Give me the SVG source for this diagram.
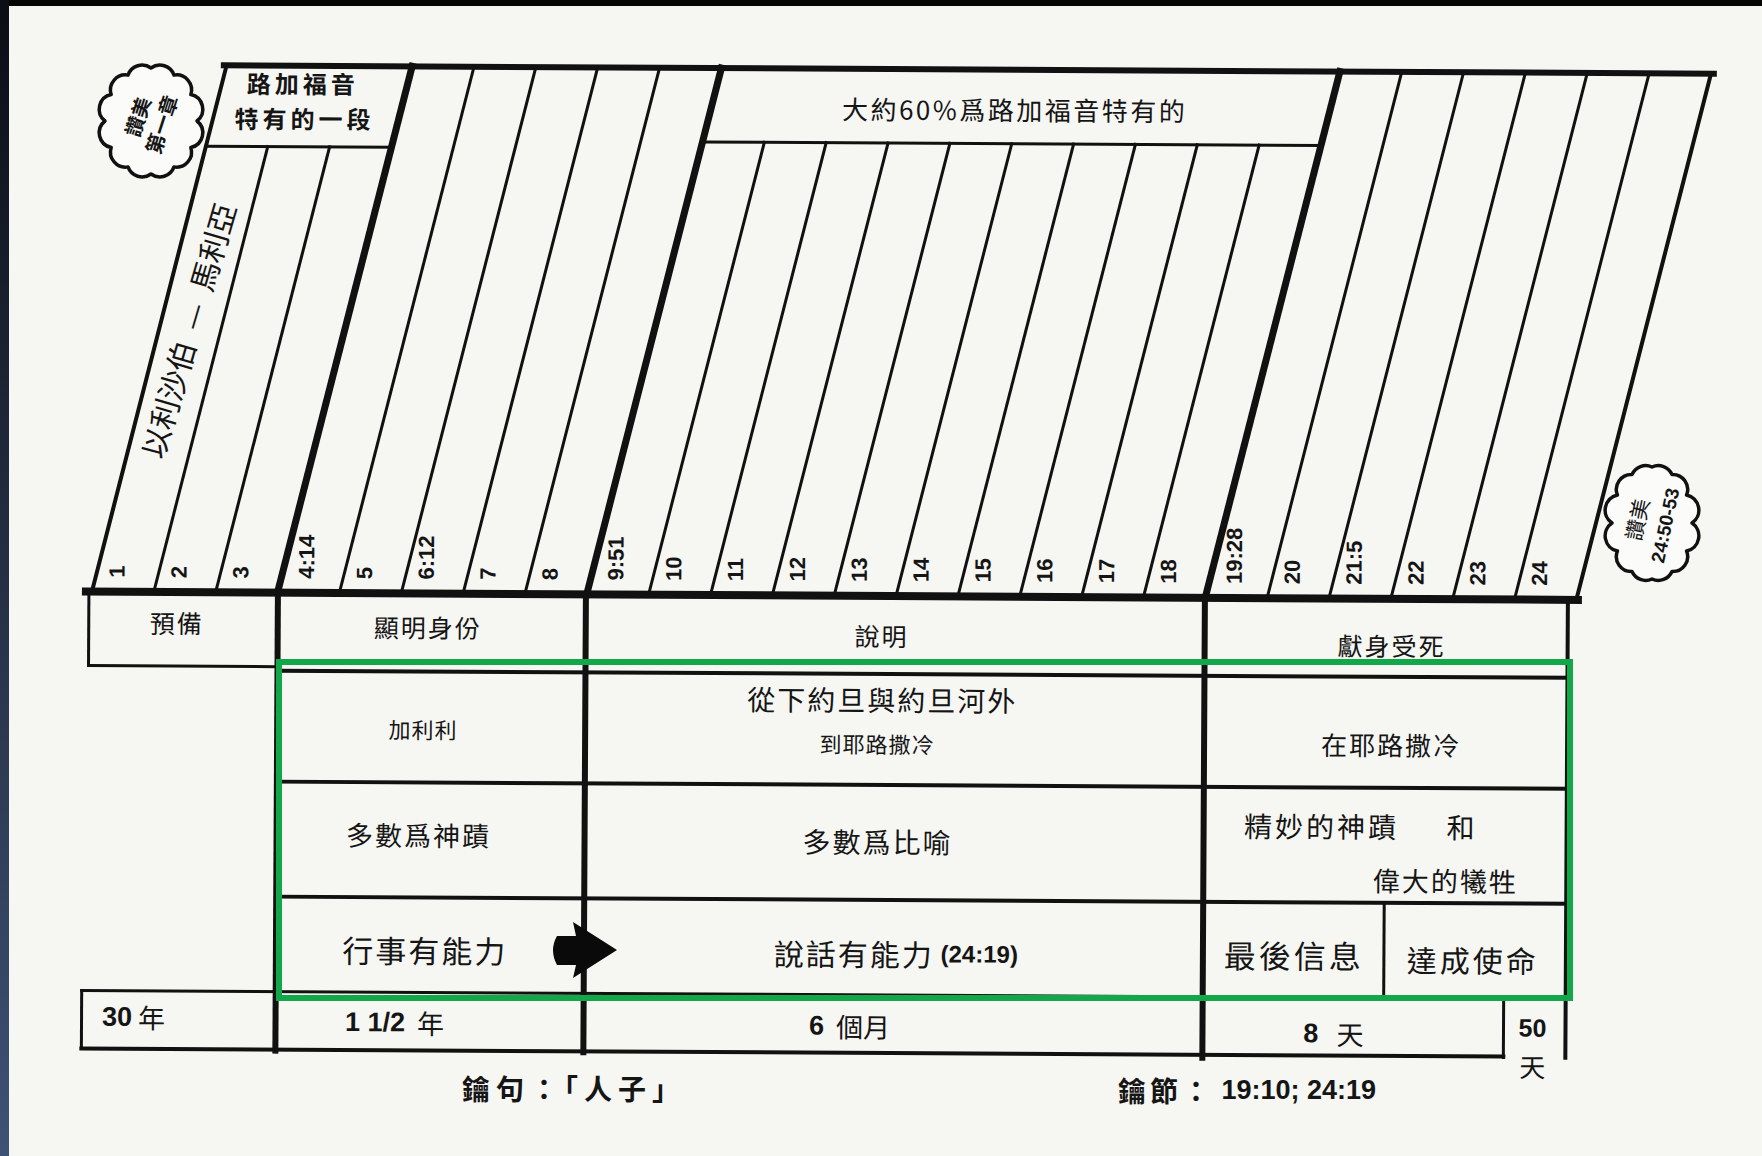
<svg xmlns="http://www.w3.org/2000/svg" width="1762" height="1156" viewBox="0 0 1762 1156">
<defs>
<linearGradient id="edge" x1="0" y1="0" x2="0" y2="1"><stop offset="0" stop-color="#0b0d14"/><stop offset="1" stop-color="#3e5275"/></linearGradient>
<style>
.ln{stroke:#111;fill:none;stroke-linecap:square}
.t3{stroke-width:3}
.t4{stroke-width:4}
.t6{stroke-width:6}
.t7{stroke-width:7}
.cjk{font-family:'Noto Sans CJK TC','Noto Sans CJK SC',sans-serif;fill:#151515}
.num{font-family:'Liberation Sans',Arial,sans-serif;font-weight:bold;fill:#151515}
.c{text-anchor:middle;dominant-baseline:central}
.v{dominant-baseline:central}
.cloud{fill:#fbfbfa;stroke:#111;stroke-width:3.5;stroke-linejoin:round}
</style>
</defs>
<rect width="1762" height="1156" fill="#f6f6f3"/>
<rect x="0" y="0" width="1762" height="6" fill="#050505"/>
<rect x="0" y="0" width="9" height="1156" fill="url(#edge)"/>

<g transform="rotate(0.32 880 580)">
<g id="slanted-columns">
<line class="ln t6" x1="221" y1="69" x2="1711" y2="69"/>
<line class="ln t4" x1="223.75" y1="69" x2="92" y2="596"/>
<line class="ln t3" x1="265.35" y1="150" x2="153.85" y2="596"/>
<line class="ln t3" x1="327.2" y1="150" x2="215.7" y2="596"/>
<line class="ln t7" x1="409.3" y1="69" x2="277.55" y2="596"/>
<line class="ln t3" x1="471.15" y1="69" x2="339.4" y2="596"/>
<line class="ln t3" x1="533" y1="69" x2="401.25" y2="596"/>
<line class="ln t3" x1="594.85" y1="69" x2="463.1" y2="596"/>
<line class="ln t3" x1="656.7" y1="69" x2="524.95" y2="596"/>
<line class="ln t7" x1="718.55" y1="69" x2="586.8" y2="596"/>
<line class="ln t3" x1="761.9" y1="143" x2="648.65" y2="596"/>
<line class="ln t3" x1="823.75" y1="143" x2="710.5" y2="596"/>
<line class="ln t3" x1="885.6" y1="143" x2="772.35" y2="596"/>
<line class="ln t3" x1="947.45" y1="143" x2="834.2" y2="596"/>
<line class="ln t3" x1="1009.3" y1="143" x2="896.05" y2="596"/>
<line class="ln t3" x1="1071.15" y1="143" x2="957.9" y2="596"/>
<line class="ln t3" x1="1133" y1="143" x2="1019.75" y2="596"/>
<line class="ln t3" x1="1194.85" y1="143" x2="1081.6" y2="596"/>
<line class="ln t3" x1="1256.7" y1="143" x2="1143.45" y2="596"/>
<line class="ln t7" x1="1337.05" y1="69" x2="1205.3" y2="596"/>
<line class="ln t3" x1="1398.9" y1="69" x2="1267.15" y2="596"/>
<line class="ln t3" x1="1460.75" y1="69" x2="1329" y2="596"/>
<line class="ln t3" x1="1522.6" y1="69" x2="1390.85" y2="596"/>
<line class="ln t3" x1="1584.45" y1="69" x2="1452.7" y2="596"/>
<line class="ln t3" x1="1646.3" y1="69" x2="1514.55" y2="596"/>
<line class="ln t4" x1="1708.15" y1="69" x2="1576.4" y2="596"/>
<text class="cjk c" font-size="30" xml:space="preserve" transform="translate(186 334) rotate(-74)">以利沙伯  —  馬利亞</text>
<g class="num" font-size="22">
<text class="v" transform="translate(117 582) rotate(-90)">1</text>
<text class="v" transform="translate(178.9 582) rotate(-90)">2</text>
<text class="v" transform="translate(240.7 582) rotate(-90)">3</text>
<text class="v" transform="translate(306.6 582) rotate(-90)">4:14</text>
<text class="v" transform="translate(364.4 582) rotate(-90)">5</text>
<text class="v" transform="translate(426.3 582) rotate(-90)">6:12</text>
<text class="v" transform="translate(488.1 582) rotate(-90)">7</text>
<text class="v" transform="translate(550 582) rotate(-90)">8</text>
<text class="v" transform="translate(615.8 582) rotate(-90)">9:51</text>
<text class="v" transform="translate(673.7 582) rotate(-90)">10</text>
<text class="v" transform="translate(735.5 582) rotate(-90)">11</text>
<text class="v" transform="translate(797.4 582) rotate(-90)">12</text>
<text class="v" transform="translate(859.2 582) rotate(-90)">13</text>
<text class="v" transform="translate(921.1 582) rotate(-90)">14</text>
<text class="v" transform="translate(982.9 582) rotate(-90)">15</text>
<text class="v" transform="translate(1044.8 582) rotate(-90)">16</text>
<text class="v" transform="translate(1106.6 582) rotate(-90)">17</text>
<text class="v" transform="translate(1168.5 582) rotate(-90)">18</text>
<text class="v" transform="translate(1234.3 582) rotate(-90)">19:28</text>
<text class="v" transform="translate(1292.2 582) rotate(-90)">20</text>
<text class="v" transform="translate(1354 582) rotate(-90)">21:5</text>
<text class="v" transform="translate(1415.9 582) rotate(-90)">22</text>
<text class="v" transform="translate(1477.7 582) rotate(-90)">23</text>
<text class="v" transform="translate(1539.6 582) rotate(-90)">24</text>
</g>
</g>

<g id="box-luke-unique">
<line class="ln t3" x1="203.5" y1="150" x2="389" y2="150"/>
<text class="cjk c" font-size="24" font-weight="bold" letter-spacing="4" x="300" y="86">路加福音</text>
<text class="cjk c" font-size="24" font-weight="bold" letter-spacing="4" x="302" y="121">特有的一段</text>
</g>

<g id="box-sixty-percent">
<line class="ln t3" x1="700" y1="143" x2="1318.5" y2="143"/>
<text class="cjk c" font-size="26" letter-spacing="2.5" x="1012" y="108">大約60%爲路加福音特有的</text>
</g>

<g id="table-grid">
<line class="ln" stroke-width="8" x1="86" y1="596" x2="1578" y2="596"/>
<line class="ln t3" x1="89" y1="596" x2="89" y2="670"/>
<line class="ln t3" x1="89" y1="670" x2="278" y2="670"/>
<line class="ln t6" x1="278" y1="596" x2="278" y2="1054"/>
<line class="ln t6" x1="586" y1="596" x2="586" y2="1054"/>
<line class="ln t6" x1="1205" y1="596" x2="1205" y2="1056"/>
<line class="ln t4" x1="1568" y1="596" x2="1568" y2="1054"/>
<line class="ln t4" x1="278" y1="674" x2="1568" y2="674"/>
<line class="ln t4" x1="278" y1="785" x2="1568" y2="785"/>
<line class="ln t4" x1="278" y1="900" x2="1568" y2="900"/>
<line class="ln t3" x1="1386" y1="900" x2="1386" y2="995"/>
<line class="ln t3" x1="84" y1="995" x2="1568" y2="995"/>
<line class="ln t3" x1="84" y1="995" x2="84" y2="1053"/>
<line class="ln t4" x1="84" y1="1053" x2="1506" y2="1053"/>
<line class="ln t3" x1="1506" y1="995" x2="1506" y2="1054"/>
</g>

<g id="row-phase">
<text class="cjk c" font-size="25" letter-spacing="2" x="177" y="626">預備</text>
<text class="cjk c" font-size="25" letter-spacing="2" x="428" y="629">顯明身份</text>
<text class="cjk c" font-size="25" letter-spacing="2" x="882" y="635">說明</text>
<text class="cjk c" font-size="25" letter-spacing="2" x="1392" y="642">獻身受死</text>
</g>

<g id="row-place">
<text class="cjk c" font-size="22" letter-spacing="1" x="424" y="731">加利利</text>
<text class="cjk c" font-size="28" letter-spacing="2" x="883" y="699">從下約旦與約旦河外</text>
<text class="cjk c" font-size="22" letter-spacing="1" x="878" y="743">到耶路撒冷</text>
<text class="cjk c" font-size="26" letter-spacing="2" x="1392" y="741">在耶路撒冷</text>
</g>

<g id="row-content">
<text class="cjk c" font-size="27" letter-spacing="2" x="420" y="837">多數爲神蹟</text>
<text class="cjk c" font-size="28" letter-spacing="2" x="879" y="841">多數爲比喻</text>
<text class="cjk c" font-size="28" letter-spacing="3" x="1323" y="823">精妙的神蹟</text>
<text class="cjk c" font-size="28" x="1462" y="823">和</text>
<text class="cjk c" font-size="27" letter-spacing="2" x="1447" y="877">偉大的犧牲</text>
</g>

<g id="row-power">
<text class="cjk c" font-size="31" letter-spacing="2" x="427" y="952">行事有能力</text>
<text class="cjk c" font-size="30" letter-spacing="2" x="898" y="953">說話有能力<tspan class="num" font-size="24" letter-spacing="0"> (24:19)</tspan></text>
<text class="cjk c" font-size="32" letter-spacing="3" x="1296" y="952">最後信息</text>
<text class="cjk c" font-size="30" letter-spacing="3" x="1475" y="956">達成使命</text>
</g>

<g id="row-duration">
<text class="cjk c" font-size="27" x="136" y="1021" xml:space="preserve"><tspan class="num">30</tspan> 年</text>
<text class="cjk c" font-size="27" x="397" y="1025" xml:space="preserve"><tspan class="num">1 1/2</tspan>  年</text>
<text class="cjk c" font-size="27" x="852" y="1026" xml:space="preserve"><tspan class="num">6</tspan>  個月</text>
<text class="cjk c" font-size="27" x="1336" y="1031" xml:space="preserve"><tspan class="num">8</tspan>   天</text>
<text class="num c" font-size="25" x="1535" y="1024">50</text>
<text class="cjk c" font-size="26" x="1535" y="1062">天</text>
</g>
</g>

<g id="cloud-intro">
<path class="cloud" d="M197,121 A15,15 0 0,1 190.8,147.5 A15,15 0 0,1 174,166.9 A15,15 0 0,1 151,174 A15,15 0 0,1 128,166.9 A15,15 0 0,1 111.2,147.5 A15,15 0 0,1 105,121 A15,15 0 0,1 111.2,94.5 A15,15 0 0,1 128,75.1 A15,15 0 0,1 151,68 A15,15 0 0,1 174,75.1 A15,15 0 0,1 190.8,94.5 A15,15 0 0,1 197,121 Z"/>
<text class="cjk" font-size="20" font-weight="bold" text-anchor="middle" transform="translate(151 121) rotate(-72)"><tspan x="0" y="-6">讚美</tspan><tspan x="0" y="19">第一章</tspan></text>
</g>

<g id="cloud-praise">
<path class="cloud" d="M1692,523 A15.5,15.5 0 0,1 1686.6,551 A15,15 0 0,1 1672,571.5 A15,15 0 0,1 1652,579 A15,15 0 0,1 1632,571.5 A15,15 0 0,1 1617.4,551 A15.5,15.5 0 0,1 1612,523 A15.5,15.5 0 0,1 1617.4,495 A15,15 0 0,1 1632,474.5 A15,15 0 0,1 1652,467 A15,15 0 0,1 1672,474.5 A15,15 0 0,1 1686.6,495 A15.5,15.5 0 0,1 1692,523 Z"/>
<g transform="translate(1654 523) rotate(-78)" text-anchor="middle">
<text class="cjk" font-size="21" x="0" y="-9">讚美</text>
<text class="num" font-size="19" x="0" y="18">24:50-53</text>
</g>
</g>

<g id="highlight">
<rect x="279" y="662" width="1291" height="336" fill="none" stroke="#12a84a" stroke-width="6"/>
</g>

<g id="connectors">
<path d="M557,936 L576,936 L573,922 L617,950 L573,978 L576,965 L557,965 Q549,950 557,936 Z" fill="#0a0a0a"/>
</g>

<g id="key-notes">
<text class="cjk c" font-size="28" font-weight="bold" letter-spacing="6" x="574" y="1088">鑰句：「人子」</text>
<text class="cjk c" font-size="28" font-weight="bold" letter-spacing="4" x="1247" y="1090" xml:space="preserve">鑰節：<tspan class="num" font-size="27" letter-spacing="0"> 19:10; 24:19</tspan></text>
</g>
</svg>
